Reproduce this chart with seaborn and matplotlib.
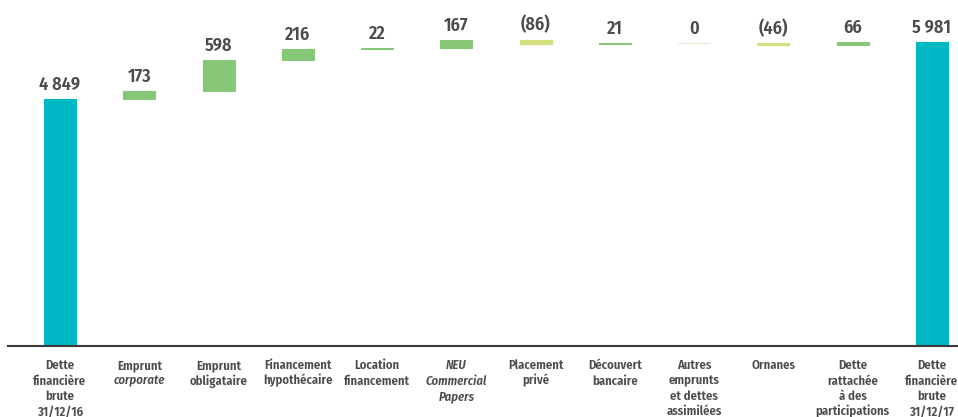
import matplotlib
matplotlib.use("Agg")
import matplotlib.pyplot as plt
import pandas as pd
import seaborn as sns

# --- data -------------------------------------------------------------
categories = [
    "Dette financière brute 31/12/16", "Emprunt corporate", "Emprunt obligataire",
    "Financement hypothécaire", "Location financement", "NEU Commercial Papers",
    "Placement privé", "Découvert bancaire", "Autres emprunts et dettes assimilées",
    "Ornanes", "Dette rattachée à des participations", "Dette financière brute 31/12/17",
]
# first and last entries are totals, the rest are variations
values = [4849, 173, 598, 216, 22, 167, -86, 21, 0, -46, 66, 5981]
kinds = ["total", "delta", "delta", "delta", "delta", "delta",
         "delta", "delta", "delta", "delta", "delta", "total"]
value_labels = ["4 849", "173", "598", "216", "22", "167", "(86)", "21", "0",
                "(46)", "66", "5 981"]
# tick label lines: (text, italic)
tick_lines = [
    [("Dette", False), ("financière", False), ("brute", False), ("31/12/16", False)],
    [("Emprunt", False), ("corporate", True)],
    [("Emprunt", False), ("obligataire", False)],
    [("Financement", False), ("hypothécaire", False)],
    [("Location", False), ("financement", False)],
    [("NEU", True), ("Commercial", True), ("Papers", True)],
    [("Placement", False), ("privé", False)],
    [("Découvert", False), ("bancaire", False)],
    [("Autres", False), ("emprunts", False), ("et dettes", False), ("assimilées", False)],
    [("Ornanes", False)],
    [("Dette", False), ("rattachée", False), ("à des", False), ("participations", False)],
    [("Dette", False), ("financière", False), ("brute", False), ("31/12/17", False)],
]

# --- waterfall geometry -------------------------------------------------
bases, heights = [], []
running = 0
for v, k in zip(values, kinds):
    if k == "total":
        bases.append(0)
        running = v
    else:
        bases.append(running)
        running += v
    heights.append(v)

df = pd.DataFrame({"categorie": categories, "hauteur": heights, "base": bases})

TEAL = "#00B7C4"
GREEN = "#86C878"
YELLOW = "#D4E07D"
ZERO = "#DCEFD5"
TEXT = "#4B4B4B"


def bar_color(v, k):
    if k == "total":
        return TEAL
    if v > 0:
        return GREEN
    if v < 0:
        return YELLOW
    return ZERO


colors = [bar_color(v, k) for v, k in zip(values, kinds)]

sns.set_style("white")
fam = ["Fira Sans Condensed", "DejaVu Sans"]
plt.rcParams["font.family"] = fam

fig = plt.figure(figsize=(9.58, 4.17), dpi=100)
ax = fig.add_axes([8 / 958, 71.3 / 417, 950 / 958, 345.7 / 417])

sns.barplot(data=df, x="categorie", y="hauteur", order=categories,
            bottom=df["base"].values, width=0.404, errorbar=None,
            color=GREEN, ax=ax, linewidth=0.8)

for patch, c in zip(ax.patches, colors):
    patch.set_facecolor(c)
    patch.set_edgecolor(c)

ax.set_xlim(-0.656, 11.33)
ax.set_ylim(0, 6805)

# value labels above each bar
for i, (b, h, lab) in enumerate(zip(bases, heights, value_labels)):
    top = max(b, b + h)
    ax.annotate(lab, xy=(i, top), xytext=(0, 9), textcoords="offset pixels",
                ha="center", va="baseline", fontsize=13, fontweight=600,
                color=TEXT, family=fam)

# multi-line category labels under the axis
for i, lines in enumerate(tick_lines):
    for j, (txt, ital) in enumerate(lines):
        ax.annotate(txt, xy=(i, 0), xycoords=("data", "axes fraction"),
                    xytext=(0, -23.5 - j * 15.4), textcoords="offset pixels",
                    ha="center", va="baseline", fontsize=9.1, fontweight=600,
                    fontstyle="italic" if ital else "normal",
                    color=TEXT, family=fam, annotation_clip=False)

ax.set_xticks([])
ax.set_yticks([])
ax.set_xlabel("")
ax.set_ylabel("")
for s in ["top", "right", "left"]:
    ax.spines[s].set_visible(False)
ax.spines["bottom"].set_color("#3A3A3A")
ax.spines["bottom"].set_linewidth(1.5)
ax.patch.set_alpha(0)

fig.savefig("out.png", dpi=100, facecolor="white")
